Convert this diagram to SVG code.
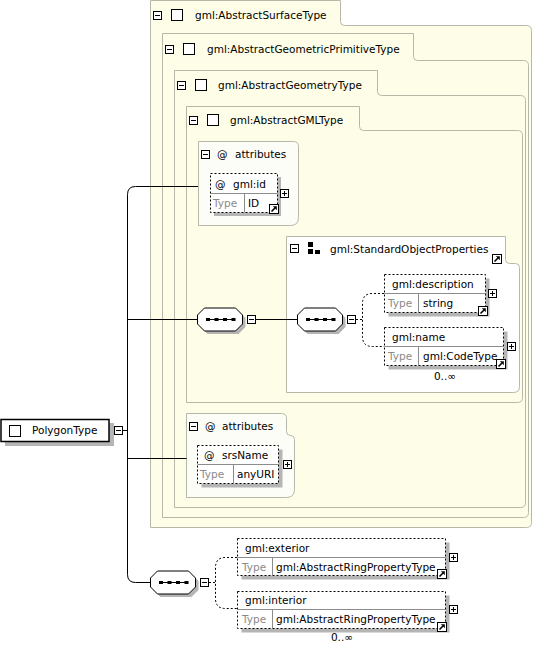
<svg xmlns="http://www.w3.org/2000/svg" xmlns:xlink="http://www.w3.org/1999/xlink" width="533" height="647" viewBox="0 0 533 647">
<style>
.lvl{fill:#fefee8;stroke:#b8b8aa;stroke-width:1}
.grp{fill:#ffffff;stroke:#b8b8aa;stroke-width:1}
.att{fill:#fdfdf8;stroke:#b8b8aa;stroke-width:1}
.el{fill:#ffffff;stroke:#000;stroke-width:1;stroke-dasharray:2 2}
.sh{fill:#b5b5b5}
.dv{stroke:#8c8c8c;stroke-width:1;fill:none}
.t{font-family:"DejaVu Sans",sans-serif;font-size:10.5px;fill:#000}
.ty{fill:#8a8a8a}
.cb{fill:#fff;stroke:#000;stroke-width:1}
.conn{fill:none;stroke:#000;stroke-width:1}
.dash{stroke-dasharray:2 2}
</style>
<defs>
<g id="minus"><rect x="0.5" y="0.5" width="8" height="8" fill="#fff" stroke="#000"/><path d="M2 4.5H7" stroke="#000"/></g>
<g id="plus"><rect x="0.5" y="0.5" width="8" height="8" fill="#fff" stroke="#000"/><path d="M2 4.5H7M4.5 2V7" stroke="#000"/></g>
<g id="link"><rect x="0.5" y="0.5" width="9" height="9" fill="#fff" stroke="#000"/><path d="M2.5 7.5L6 4" stroke="#000" stroke-width="1.6"/><path d="M3.8 2.2H7.8V6.2Z" fill="#000"/></g>
<g id="seq"><path class="sh" d="M10.5,3.5 H41.5 L48.5,10.5 V19.5 L41.5,26.5 H10.5 L3.5,19.5 V10.5 Z"/><path d="M7.5,0.5 H38.5 L45.5,7.5 V16.5 L38.5,23.5 H7.5 L0.5,16.5 V7.5 Z" fill="#fff" stroke="#000"/><path d="M10 12H38" stroke="#000"/><rect x="9" y="10.5" width="4" height="3"/><rect x="17.5" y="10.5" width="4" height="3"/><rect x="26" y="10.5" width="4" height="3"/><rect x="34.5" y="10.5" width="4" height="3"/></g>
</defs>

<g id="AbstractSurfaceType">
<path class="lvl" d="M150.5,0.5 H340.5 V21.5 Q340.5,25.5 344.5,25.5 H526.5 Q531.5,25.5 531.5,30.5 V522.5 Q531.5,527.5 526.5,527.5 H150.5 Z"/>
<use xlink:href="#minus" href="#minus" x="153" y="11"/>
<rect class="cb" x="171.5" y="9.5" width="11" height="11"/>
<text class="t" x="195" y="19">gml:AbstractSurfaceType</text>
</g>

<g id="AbstractGeometricPrimitiveType">
<path class="lvl" d="M162.5,33.5 H413.5 V56.5 Q413.5,60.5 417.5,60.5 H523.5 Q528.5,60.5 528.5,65.5 V512.5 Q528.5,517.5 523.5,517.5 H162.5 Z"/>
<use xlink:href="#minus" href="#minus" x="165" y="45"/>
<rect class="cb" x="183.5" y="43.5" width="11" height="11"/>
<text class="t" x="207" y="53">gml:AbstractGeometricPrimitiveType</text>
</g>

<g id="AbstractGeometryType">
<path class="lvl" d="M174.5,70.5 H377.5 V91.5 Q377.5,95.5 381.5,95.5 H520.5 Q525.5,95.5 525.5,100.5 V502.5 Q525.5,507.5 520.5,507.5 H174.5 Z"/>
<use xlink:href="#minus" href="#minus" x="177" y="81"/>
<rect class="cb" x="195.5" y="79.5" width="11" height="11"/>
<text class="t" x="218" y="89">gml:AbstractGeometryType</text>
</g>

<g id="AbstractGMLType">
<path class="lvl" d="M186.5,106.5 H359.5 V126.5 Q359.5,130.5 363.5,130.5 H517.5 Q522.5,130.5 522.5,135.5 V397.5 Q522.5,402.5 517.5,402.5 H186.5 Z"/>
<use xlink:href="#minus" href="#minus" x="189" y="116"/>
<rect class="cb" x="207.5" y="114.5" width="11" height="11"/>
<text class="t" x="230" y="124">gml:AbstractGMLType</text>
</g>

<g id="attributes1">
<path class="att" d="M198.5,141.5 H293.5 Q298.5,141.5 298.5,146.5 V217.5 Q298.5,225.5 290.5,225.5 H198.5 Z"/>
<use xlink:href="#minus" href="#minus" x="201" y="150"/>
<text class="t" x="217" y="158">@</text>
<text class="t" x="235" y="158">attributes</text>
</g>

<g id="gml-id">
<rect class="sh" x="214" y="177" width="67" height="39"/>
<rect class="el" x="210.5" y="173.5" width="67" height="39"/>
<path class="dv" d="M210.5,193.5 H277.5 M244.5,193.5 V212.5"/>
<text class="t" x="215" y="188">@</text>
<text class="t" x="233" y="188">gml:id</text>
<text class="t ty" x="213" y="207">Type</text>
<text class="t" x="248" y="207">ID</text>
<use xlink:href="#plus" href="#plus" x="280" y="189"/>
<use xlink:href="#link" href="#link" x="269" y="204"/>
</g>

<g id="StandardObjectProperties">
<path class="grp" d="M286.5,236.5 H505.5 V259.5 Q505.5,263.5 509.5,263.5 H515.5 Q519.5,263.5 519.5,267.5 V386.5 Q519.5,392.5 513.5,392.5 H286.5 Z"/>
<use xlink:href="#minus" href="#minus" x="290" y="244"/>
<rect x="308" y="242" width="5" height="5"/>
<rect x="308" y="249" width="5" height="5"/>
<rect x="315" y="250" width="5" height="4"/>
<text class="t" x="330" y="253">gml:StandardObjectProperties</text>
<use xlink:href="#link" href="#link" x="492" y="254"/>
</g>

<g id="seq1"><use xlink:href="#seq" href="#seq" x="197" y="307.5"/><use xlink:href="#minus" href="#minus" x="247" y="315"/></g>
<g id="seq2"><use xlink:href="#seq" href="#seq" x="297" y="307.5"/><use xlink:href="#minus" href="#minus" x="347" y="315"/></g>

<g id="gml-description">
<rect class="sh" x="388.5" y="278.5" width="101" height="38"/>
<rect class="el" x="384.5" y="274.5" width="101" height="38"/>
<path class="dv" d="M384.5,293.5 H485.5 M418.5,293.5 V312.5"/>
<text class="t" x="392" y="288">gml:description</text>
<text class="t ty" x="388" y="307">Type</text>
<text class="t" x="423" y="307">string</text>
<use xlink:href="#plus" href="#plus" x="488" y="289"/>
<use xlink:href="#link" href="#link" x="478" y="306"/>
</g>

<g id="gml-name">
<rect class="sh" x="388.5" y="331.5" width="119" height="38"/>
<rect class="el" x="384.5" y="327.5" width="119" height="38"/>
<path class="dv" d="M384.5,346.5 H503.5 M418.5,346.5 V365.5"/>
<text class="t" x="392" y="341">gml:name</text>
<text class="t ty" x="388" y="360">Type</text>
<text class="t" x="423" y="360">gml:CodeType</text>
<use xlink:href="#plus" href="#plus" x="507" y="342"/>
<use xlink:href="#link" href="#link" x="496" y="359"/>
<text class="t" x="445" y="380" text-anchor="middle">0..∞</text>
</g>

<g id="attributes2">
<path class="att" d="M186.5,413.5 H281.5 Q286.5,413.5 286.5,418.5 V431.5 Q286.5,435.5 290.5,435.5 Q294.5,435.5 294.5,439.5 V489.5 Q294.5,497.5 286.5,497.5 H186.5 Z"/>
<use xlink:href="#minus" href="#minus" x="189" y="422"/>
<text class="t" x="205" y="430">@</text>
<text class="t" x="222" y="430">attributes</text>
</g>

<g id="srsName">
<rect class="sh" x="201.5" y="449.5" width="81" height="38"/>
<rect class="el" x="197.5" y="445.5" width="81" height="38"/>
<path class="dv" d="M197.5,464.5 H278.5 M233.5,464.5 V483.5"/>
<text class="t" x="204" y="459">@</text>
<text class="t" x="222" y="459">srsName</text>
<text class="t ty" x="200" y="478">Type</text>
<text class="t" x="237" y="478">anyURI</text>
<use xlink:href="#plus" href="#plus" x="283" y="460"/>
</g>

<g id="PolygonType">
<rect class="sh" x="5" y="423" width="109" height="23"/>
<rect x="1" y="419.5" width="108" height="22" fill="#fff" stroke="#000" stroke-width="1.5"/>
<rect class="cb" x="9.5" y="425.5" width="11" height="11"/>
<text class="t" x="32" y="434">PolygonType</text>
<use xlink:href="#minus" href="#minus" x="114" y="426"/>
</g>

<g id="seq3"><use xlink:href="#seq" href="#seq" x="150" y="570.5"/><use xlink:href="#minus" href="#minus" x="200" y="578"/></g>

<g id="gml-exterior">
<rect class="sh" x="241.5" y="542.5" width="208" height="37"/>
<rect class="el" x="237.5" y="538.5" width="208" height="37"/>
<path class="dv" d="M237.5,557.5 H445.5 M272.5,557.5 V575.5"/>
<text class="t" x="245" y="552">gml:exterior</text>
<text class="t ty" x="242" y="571">Type</text>
<text class="t" x="276" y="571">gml:AbstractRingPropertyType</text>
<use xlink:href="#plus" href="#plus" x="449" y="553"/>
<use xlink:href="#link" href="#link" x="437" y="569"/>
</g>

<g id="gml-interior">
<rect class="sh" x="241.5" y="595.5" width="208" height="37"/>
<rect class="el" x="237.5" y="591.5" width="208" height="37"/>
<path class="dv" d="M237.5,609.5 H445.5 M272.5,609.5 V628.5"/>
<text class="t" x="245" y="604">gml:interior</text>
<text class="t ty" x="242" y="623">Type</text>
<text class="t" x="276" y="623">gml:AbstractRingPropertyType</text>
<use xlink:href="#plus" href="#plus" x="449" y="605"/>
<use xlink:href="#link" href="#link" x="437" y="622"/>
<text class="t" x="342" y="641" text-anchor="middle">0..∞</text>
</g>

<g id="connectors">
<path class="conn" d="M123,430.5 H127.5"/>
<path class="conn" d="M198,186.5 H135.5 Q127.5,186.5 127.5,194.5 V574.5 Q127.5,582.5 135.5,582.5 H150.5"/>
<path class="conn" d="M127.5,319.5 H197.5"/>
<path class="conn" d="M127.5,458.5 H186.5"/>
<path class="conn" d="M256,319.5 H297.5"/>
<path class="conn dash" d="M356,319.5 H362.5"/>
<path class="conn dash" d="M384,293.5 H372.5 Q362.5,293.5 362.5,303.5 V336.5 Q362.5,346.5 372.5,346.5 H384"/>
<path class="conn dash" d="M209,582.5 H215.5"/>
<path class="conn dash" d="M237,557.5 H225.5 Q215.5,557.5 215.5,567.5 V598.5 Q215.5,608.5 225.5,608.5 H237"/>
</g>
</svg>
